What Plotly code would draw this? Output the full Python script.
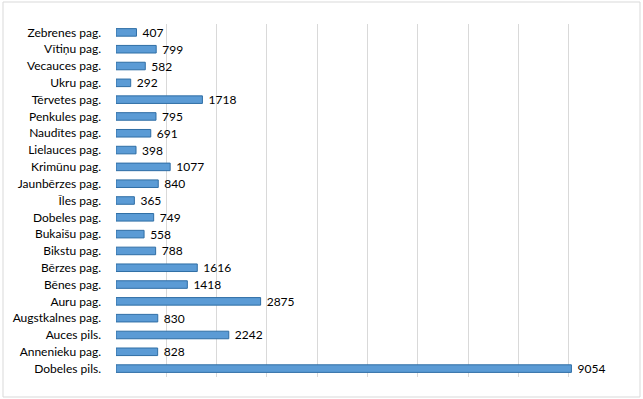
import plotly.graph_objects as go

categories = ["Dobeles pils.", "Annenieku pag.", "Auces pils.", "Augstkalnes pag.", "Auru pag.",
              "Bēnes pag.", "Bērzes pag.", "Bikstu pag.", "Bukaišu pag.", "Dobeles pag.",
              "Īles pag.", "Jaunbērzes pag.", "Krimūnu pag.", "Lielauces pag.", "Naudītes pag.",
              "Penkules pag.", "Tērvetes pag.", "Ukru pag.", "Vecauces pag.", "Vītiņu pag.",
              "Zebrenes pag."]
values = [9054, 828, 2242, 830, 2875, 1418, 1616, 788, 558, 749, 365, 840, 1077, 398, 691,
          795, 1718, 292, 582, 799, 407]

FONT = "Lato, Open Sans, sans-serif"

fig = go.Figure(go.Bar(
    x=values, y=categories, orientation="h",
    marker=dict(color="#5b9bd5", line=dict(color="#2f6ea5", width=1)),
    width=0.45,
    text=["\u00a0" + str(v) for v in values], textposition="outside",
    constraintext="none",
    textfont=dict(size=12, color="#000000", family=FONT),
    cliponaxis=False,
))

L, R, T, B = 116, 24, 24, 22
W, H = 643, 399
pw, ph = W - L - R, H - T - B
x0 = (3 - L) / pw
x1 = (640 - L) / pw
y0 = (H - B - 397) / ph
y1 = (H - B - 2) / ph

fig.update_layout(
    width=W, height=H,
    margin=dict(l=L, r=R, t=T, b=B, autoexpand=False),
    paper_bgcolor="white", plot_bgcolor="white",
    showlegend=False,
    uniformtext=dict(minsize=12, mode="show"),
    font=dict(family=FONT, size=12, color="#000000"),
    xaxis=dict(range=[0, 10000], dtick=1000, showgrid=True, gridcolor="#d9d9d9", gridwidth=1,
               showticklabels=False, zeroline=False, showline=False, ticks="", automargin=False),
    yaxis=dict(showgrid=False, ticks="", ticklen=0, showline=False, automargin=False,
               ticklabelstandoff=14, tickfont=dict(size=12, color="#000000")),
    bargap=0.55,
    shapes=[dict(type="rect", xref="paper", yref="paper", x0=x0, x1=x1, y0=y0, y1=y1,
                 line=dict(color="#d9d9d9", width=1), fillcolor="rgba(0,0,0,0)", layer="below")],
)

fig.write_html("out.html", config={"displayModeBar": False},
               post_script="document.body.style.margin='0';document.body.style.overflow='hidden';")
